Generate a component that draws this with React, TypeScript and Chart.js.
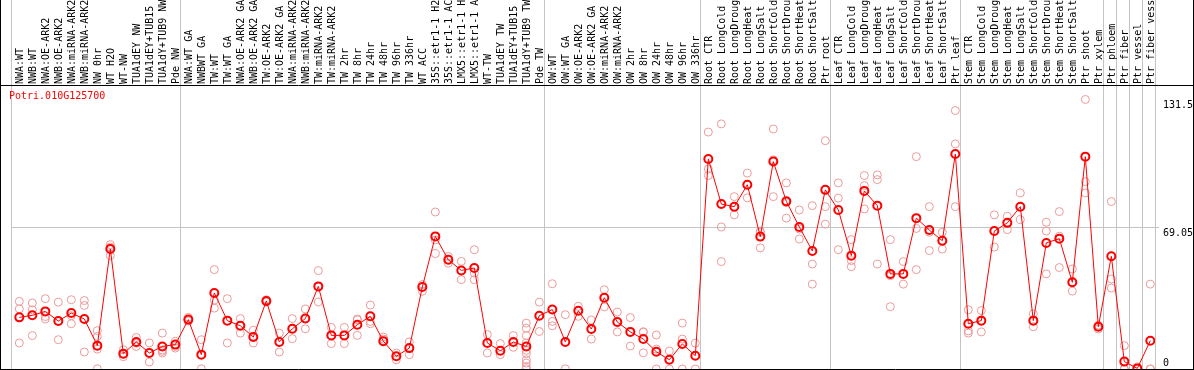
import React, { useEffect, useRef } from 'react';
import { Chart, registerables } from 'chart.js';

Chart.register(...registerables);

const GENE_ID = 'Potri.010G125700';

const categories: string[] = [
  'NWA:WT', 'NWB:WT', 'NWA:OE-ARK2', 'NWB:OE-ARK2', 'NWA:miRNA-ARK2', 'NWB:miRNA-ARK2',
  'NW 0hr', 'WT H2O', 'WT-NW', 'TUA1dEY NW', 'TUA1dEY+TUB15 NW', 'TUA1dY+TUB9 NW', 'Pde NW',
  'NWA:WT GA', 'NWBWT GA', 'TW:WT', 'TW:WT GA', 'NWA:OE-ARK2 GA', 'NWB:OE-ARK2 GA',
  'TW:OE-ARK2', 'TW:OE-ARK2 GA', 'NWA:miRNA-ARK2', 'NWB:miRNA-ARK2', 'TW:miRNA-ARK2',
  'TW:miRNA-ARK2', 'TW 2hr', 'TW 8hr', 'TW 24hr', 'TW 48hr', 'TW 96hr', 'TW 336hr', 'WT ACC',
  '35S::etr1-1 H2O', '35S::etr1-1 ACC', 'LMX5::etr1-1 H2O', 'LMX5::etr1-1 ACC', 'WT-TW',
  'TUA1dEY TW', 'TUA1dEY+TUB15 TW', 'TUA1dY+TUB9 TW', 'Pde TW',
  'OW:WT', 'OW:WT GA', 'OW:OE-ARK2', 'OW:OE-ARK2 GA', 'OW:miRNA-ARK2', 'OW:miRNA-ARK2',
  'OW 2hr', 'OW 8hr', 'OW 24hr', 'OW 48hr', 'OW 96hr', 'OW 336hr',
  'Root CTR', 'Root LongCold', 'Root LongDrought', 'Root LongHeat', 'Root LongSalt',
  'Root ShortCold', 'Root ShortDrought', 'Root ShortHeat', 'Root ShortSalt', 'Ptr root',
  'Leaf CTR', 'Leaf LongCold', 'Leaf LongDrought', 'Leaf LongHeat', 'Leaf LongSalt',
  'Leaf ShortCold', 'Leaf ShortDrought', 'Leaf ShortHeat', 'Leaf ShortSalt', 'Ptr leaf',
  'Stem CTR', 'Stem LongCold', 'Stem LongDrought', 'Stem LongHeat', 'Stem LongSalt',
  'Stem ShortCold', 'Stem ShortDrought', 'Stem ShortHeat', 'Stem ShortSalt', 'Ptr shoot',
  'Ptr xylem', 'Ptr phloem', 'Ptr fiber', 'Ptr vessel', 'Ptr fiber vessel',
];

const means: number[] = [
  25.2, 26.2, 28.1, 23.4, 27.3, 24.4, 11.4, 58.6, 7.5, 13.2, 7.8, 11.0, 11.9,
  24.1, 7.0, 37.1, 23.6, 21.1, 15.6, 33.2, 13.2, 19.6, 24.6, 40.3, 16.4, 16.4, 21.6,
  25.7, 13.6, 6.2, 10.2, 40.0, 64.7, 53.3, 48.1, 49.3, 12.7, 8.9, 13.2, 11.0, 26.0,
  29.0, 13.2, 28.4, 19.5, 34.8, 22.9, 18.1, 14.6, 8.4, 4.5, 12.2, 6.5,
  102.5, 80.5, 79.2, 89.9, 64.6, 101.2, 81.8, 69.3, 57.6, 87.4,
  77.6, 55.3, 86.9, 79.7, 46.4, 46.4, 73.6, 67.8, 62.6, 104.9,
  22.1, 23.6, 67.3, 71.3, 79.2, 23.6, 61.5, 63.6, 42.3, 103.6, 20.6,
  55.0, 3.6, 0.3, 13.8,
];

const replicates: number[][] = [
  [33.0, 29.3, 12.7], [32.2, 28.9, 16.3], [34.3, 25.6, 24.4], [32.6, 23.4, 14.3],
  [33.8, 26.0, 22.1], [33.4, 31.0, 8.3], [18.7, 15.9, 9.7, 0.1], [60.7, 59.5, 55.3],
  [9.4, 7.2, 6.0], [15.4, 12.6, 11.0], [12.7, 7.8, 3.4], [17.5, 11.0, 9.3, 8.6, 7.8],
  [13.5, 11.0, 10.2],
  [25.2, 24.1, 23.4], [14.3, 7.0, 0.1], [48.5, 33.6, 29.7], [34.3, 23.6, 12.7],
  [24.6, 21.1, 17.5], [18.9, 15.6, 12.7], [33.8, 33.2, 32.7], [17.5, 13.2, 8.3],
  [24.6, 19.6, 14.8], [29.3, 24.6, 19.6], [48.0, 40.3, 32.7], [20.3, 16.4, 12.4],
  [20.3, 16.4, 12.4], [24.4, 24.0, 16.4], [31.2, 23.2, 22.1], [15.6, 14.6, 13.6],
  [7.8, 6.2, 4.5], [13.2, 10.2, 7.0], [41.2, 40.0, 37.9], [76.6, 63.0, 56.3],
  [54.9, 53.3, 51.6], [52.5, 48.1, 43.6], [58.2, 46.8, 43.6], [16.8, 12.7, 7.8],
  [12.4, 8.9, 7.0], [16.3, 13.2, 10.6],
  [22.4, 19.9, 16.3, 12.7, 11.0, 9.1, 7.5, 4.5, 2.9, 1.2, 0.1], [32.6, 26.0, 18.3],
  [41.6, 23.2, 21.1], [26.5, 13.2, 0.1], [30.6, 28.4, 25.7], [23.9, 19.5, 14.6],
  [38.7, 34.8, 30.3], [27.8, 22.9, 18.1], [25.1, 18.1, 11.2], [18.2, 17.9, 7.9],
  [16.6, 9.7, 0], [8.8, 4.6, 0], [22.4, 14.6, 0], [12.6, 0],
  [115.6, 97.6, 94.4], [119.6, 69.3, 52.4], [84.1, 79.2, 75.2], [95.6, 89.9, 83.5],
  [67.2, 66.7, 59.1], [117.1, 102.1, 84.1], [90.8, 81.2, 73.6], [77.6, 68.3, 63.4],
  [79.7, 51.2, 41.4], [111.4, 79.2, 70.7],
  [90.8, 83.4, 58.2], [63.1, 52.9, 49.9], [94.4, 89.5, 78.1], [94.7, 92.4, 51.2],
  [63.1, 45.5, 30.4], [52.4, 46.4, 41.4], [103.6, 68.6, 48.5], [79.2, 66.7, 57.8],
  [66.7, 62.6, 58.5], [126.1, 109.8, 79.2],
  [28.9, 18.6, 17.5], [28.5, 23.6, 18.1], [75.2, 67.3, 59.5], [74.5, 71.3, 68.0],
  [85.9, 79.2, 72.9], [26.9, 23.6, 20.6], [71.6, 67.3, 46.4], [76.8, 64.8, 49.5],
  [48.8, 42.3, 38.0], [131.5, 91.4, 85.9], [21.4, 20.6, 19.5],
  [81.7, 43.9, 39.5], [11.4, 0, 0], [1.0, 0, 0], [41.4, 0, 0],
];

// last category index of each group (group separators drawn after them)
const groupEnds: number[] = [-1, 12, 40, 52, 62, 72, 83, 84, 85, 86, 87];
const yTickValues: number[] = [0, 69.05, 131.5];
const yMaxValue = 131.5;

const SEP_SHIFT = 0.36;
const FONT = { family: "'DejaVu Sans Mono', monospace", size: 10, lineHeight: 1.2 };
const GRID_GREY = '#c4c4c4';

export default function App() {
  const canvasRef = useRef<HTMLCanvasElement | null>(null);

  useEffect(() => {
    document.body.style.margin = '0';
    const canvas = canvasRef.current;
    if (!canvas) return;

    const boundaries = groupEnds.map((k) => k + SEP_SHIFT);
    const boundarySet = new Set(boundaries.map((b) => b.toFixed(2)));
    const xMin = boundaries[0];
    const xMax = boundaries[boundaries.length - 1];

    const meanPoints = means.map((v, i) => ({ x: i, y: v }));
    const repPoints: { x: number; y: number }[] = [];
    replicates.forEach((arr, i) => arr.forEach((v) => repPoints.push({ x: i, y: v })));

    const framePlugin = {
      id: 'frame',
      afterDraw(chart: any) {
        const { ctx, chartArea, width, height } = chart;
        ctx.save();
        ctx.strokeStyle = '#000';
        ctx.lineWidth = 1;
        ctx.beginPath();
        const ty = Math.round(chartArea.top) - 0.5;
        ctx.moveTo(0, ty);
        ctx.lineTo(width, ty);
        ctx.moveTo(0.5, 0);
        ctx.lineTo(0.5, height);
        ctx.moveTo(width - 0.5, 0);
        ctx.lineTo(width - 0.5, height);
        ctx.moveTo(0, height - 0.5);
        ctx.lineTo(width, height - 0.5);
        ctx.stroke();
        ctx.restore();
      },
    };

    const chart = new Chart(canvas, {
      type: 'line',
      data: {
        datasets: [
          {
            data: meanPoints,
            borderColor: '#ff0000',
            borderWidth: 1,
            pointRadius: 4,
            pointBorderWidth: 2,
            pointBorderColor: '#ff0000',
            pointBackgroundColor: 'rgba(0,0,0,0)',
            backgroundColor: 'rgba(0,0,0,0)',
            tension: 0,
            fill: false,
          },
          {
            data: repPoints,
            showLine: false,
            pointRadius: 4,
            pointBorderWidth: 1,
            pointBorderColor: '#ec9a9a',
            pointBackgroundColor: 'rgba(0,0,0,0)',
            borderColor: '#ec9a9a',
            backgroundColor: 'rgba(0,0,0,0)',
          },
        ],
      },
      options: {
        animation: false,
        responsive: false,
        devicePixelRatio: 1,
        events: [],
        layout: { autoPadding: false, padding: { left: 11, right: 0, top: 0, bottom: 1 } },
        plugins: { legend: { display: false }, tooltip: { enabled: false }, title: { display: false } },
        scales: {
          x: {
            type: 'linear',
            position: 'top',
            min: xMin,
            max: xMax,
            afterBuildTicks: (scale: any) => {
              const vals = [...boundaries, ...categories.map((_, i) => i)].sort((a, b) => a - b);
              scale.ticks = vals.map((v) => ({ value: v }));
            },
            afterFit: (scale: any) => {
              scale.height = 86;
              scale.paddingLeft = 0;
              scale.paddingRight = 0;
            },
            ticks: {
              autoSkip: false,
              minRotation: 90,
              maxRotation: 90,
              padding: -84,
              labelOffset: 13,
              color: '#000',
              font: FONT,
              callback: (value: any) => {
                const v = Number(value);
                return Number.isInteger(v) && v >= 0 && v < categories.length ? categories[v] : '';
              },
            },
            grid: {
              drawTicks: true,
              tickLength: 86,
              lineWidth: 1,
              color: (ctx: any) =>
                ctx.tick && boundarySet.has(Number(ctx.tick.value).toFixed(2)) ? GRID_GREY : 'rgba(0,0,0,0)',
            },
            border: { display: false },
          },
          y: {
            type: 'linear',
            position: 'right',
            min: 0,
            max: yMaxValue * 1.05,
            afterBuildTicks: (scale: any) => {
              scale.ticks = yTickValues.map((v) => ({ value: v }));
            },
            afterFit: (scale: any) => {
              scale.width = 39;
              scale.paddingTop = 0;
              scale.paddingBottom = 0;
            },
            ticks: {
              padding: 4,
              color: '#000',
              font: FONT,
              callback: (value: any) => {
                const v = Number(value);
                return v === 0 ? ['0', ''] : ['', String(v)];
              },
            },
            grid: {
              drawTicks: true,
              tickLength: 4,
              lineWidth: 1,
              color: (ctx: any) =>
                ctx.tick && Math.abs(ctx.tick.value - yTickValues[1]) < 1e-6 ? GRID_GREY : 'rgba(0,0,0,0)',
            },
            border: { display: false },
          },
        },
      },
      plugins: [framePlugin],
    });

    return () => chart.destroy();
  }, []);

  return (
    <div style={{ position: 'fixed', left: 0, top: 0, width: 1194, height: 370, background: '#fff' }}>
      <canvas ref={canvasRef} width={1194} height={370} style={{ display: 'block', width: 1194, height: 370 }} />
      <div
        style={{
          position: 'absolute',
          left: 9,
          top: 90,
          color: '#ff0000',
          fontFamily: "'DejaVu Sans Mono', monospace",
          fontSize: 10,
          lineHeight: '12px',
          whiteSpace: 'nowrap',
        }}
      >
        {GENE_ID}
      </div>
    </div>
  );
}
